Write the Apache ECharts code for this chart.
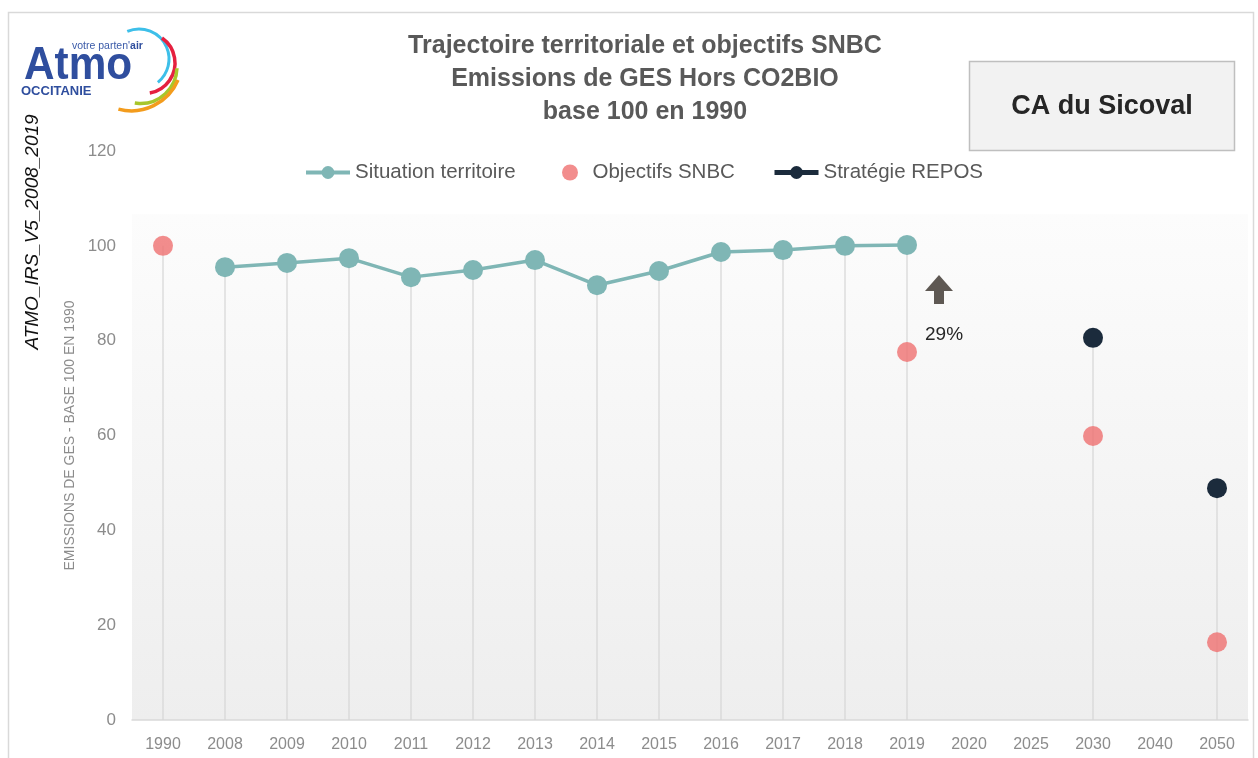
<!DOCTYPE html>
<html>
<head>
<meta charset="utf-8">
<script src="https://cdn.jsdelivr.net/npm/echarts@6/dist/echarts.min.js"></script>
<style>html,body{margin:0;padding:0;background:#fff}#c{width:1258px;height:758px}</style>
</head>
<body>
<div id="c"></div>
<script>
const categories = ['1990','2008','2009','2010','2011','2012','2013','2014','2015','2016','2017','2018','2019','2020','2025','2030','2040','2050'];
const situationTerritoire = [null,95.5,96.4,97.4,93.4,94.9,97.0,91.7,94.7,98.7,99.1,100.0,100.2,null,null,null,null,null];
const objectifsSNBC = [100,null,null,null,null,null,null,null,null,null,null,null,77.6,null,null,59.9,null,16.4];
const strategieREPOS = [null,null,null,null,null,null,null,null,null,null,null,null,null,null,null,80.6,null,48.9];
const yTicks = {min:0, max:120, interval:20};

const dropLines = categories.map((c,i)=>{
  const v=[situationTerritoire[i],objectifsSNBC[i],strategieREPOS[i]].filter(x=>x!=null);
  return v.length?Math.max(...v):null;
});

const FONT = "'Liberation Sans Narrow','Arial Narrow','Liberation Sans',sans-serif";
const LOGOFONT = "'Liberation Sans',Arial,sans-serif";
const TEAL='#7fb6b5', RED='#ef7070', NAVY='#1b2b3c';
const deg=Math.PI/180;
const legendText = {fontFamily:FONT, fontSize:20.5, color:'#595959'};

const chart = echarts.init(document.getElementById('c'));
chart.setOption({
  backgroundColor:'#fff',
  animation:false,
  title:{
    text:'Trajectoire territoriale et objectifs SNBC\nEmissions de GES Hors CO2BIO\nbase 100 en 1990',
    left:640, top:25, textAlign:'center',
    textStyle:{fontFamily:FONT, fontSize:25, fontWeight:'bold', color:'#595959', lineHeight:33}
  },
  legend:[
    {left:299, top:157, itemWidth:44, itemHeight:16, textStyle:legendText,
      data:[{name:'Situation territoire', lineStyle:{width:4}}]},
    {left:557, top:157, itemWidth:35, itemHeight:16, textStyle:legendText,
      data:[{name:'Objectifs SNBC', icon:'circle'}]},
    {left:767, top:157, itemWidth:44, itemHeight:16, textStyle:legendText,
      data:[{name:'Stratégie REPOS', lineStyle:{width:5}}]}
  ],
  grid:{left:132, right:10, top:151, bottom:38,
    show:true, borderWidth:0,
    backgroundColor:{type:'linear',x:0,y:0,x2:0,y2:1,colorStops:[{offset:0,color:'#ffffff'},{offset:0.11,color:'#ffffff'},{offset:0.112,color:'#fcfcfc'},{offset:1,color:'#eeeeee'}]}
  },
  xAxis:{
    type:'category', data:categories, boundaryGap:true,
    axisLine:{lineStyle:{color:'#d9d9d9', width:1.5}},
    axisTick:{show:false},
    axisLabel:{fontFamily:FONT, fontSize:16, color:'#8c8c8c', margin:17, interval:0}
  },
  yAxis:{
    type:'value', min:yTicks.min, max:yTicks.max, interval:yTicks.interval,
    name:'EMISSIONS DE GES - BASE 100 EN 1990', nameLocation:'middle', nameGap:51, nameRotate:90,
    nameTextStyle:{fontFamily:FONT, fontSize:14, color:'#8c8c8c'},
    axisLine:{show:false}, axisTick:{show:false}, splitLine:{show:false},
    axisLabel:{fontFamily:FONT, fontSize:17, color:'#8c8c8c', margin:16}
  },
  series:[
    {name:'drop', type:'bar', data:dropLines, barWidth:1.2, silent:true, z:1,
      itemStyle:{color:'#d6d6d6'}, legendHoverLink:false},
    {name:'Situation territoire', type:'line', data:situationTerritoire, connectNulls:false,
      symbol:'circle', symbolSize:20, z:3,
      lineStyle:{color:TEAL, width:3.5}, itemStyle:{color:TEAL}},
    {name:'Objectifs SNBC', type:'scatter', data:objectifsSNBC, symbol:'circle', symbolSize:20, z:3,
      itemStyle:{color:RED}},
    {name:'Stratégie REPOS', type:'line', data:strategieREPOS, connectNulls:false,
      symbol:'circle', symbolSize:20, z:3,
      lineStyle:{color:NAVY, width:4}, itemStyle:{color:NAVY}}
  ],
  graphic:[
    {type:'rect', shape:{x:8.5,y:12.5,width:1245,height:800}, style:{fill:null, stroke:'#d9d9d9', lineWidth:1.5}, z:-10},
    {type:'rect', shape:{x:969.5,y:61.5,width:265,height:89}, style:{fill:'#f2f2f2', stroke:'#bfbfbf', lineWidth:1.5}},
    {type:'text', x:1102, y:107, style:{text:'CA du Sicoval', fontFamily:FONT, fontSize:27, fontWeight:'bold', fill:'#262626', textAlign:'center', textVerticalAlign:'middle'}},
    {type:'text', x:33, y:232, rotation:Math.PI/2, style:{text:'ATMO_IRS_V5_2008_2019', fontFamily:FONT, fontSize:19, fontStyle:'italic', fill:'#111', textAlign:'center', textVerticalAlign:'middle'}},
    {type:'polygon', shape:{points:[[939,275],[953,291],[944,291],[944,304],[934,304],[934,291],[925,291]]}, style:{fill:'#5e5853'}},
    {type:'text', x:925, y:335, style:{text:'29%', fontFamily:FONT, fontSize:19, fill:'#262626', textVerticalAlign:'middle'}},
    // logo
    {type:'text', x:24, y:66, scaleX:0.9, style:{text:'Atmo', fontFamily:LOGOFONT, fontSize:47, fontWeight:'bold', fill:'#2f4e9e', textVerticalAlign:'middle'}},
    {type:'text', x:72, y:46, style:{text:"{a|votre parten'}{b|air}", fontFamily:LOGOFONT, fontSize:10.5, fill:'#2f4e9e', textVerticalAlign:'middle',
      rich:{a:{fontFamily:LOGOFONT, fontSize:10.5, fill:'#3a5aa8'}, b:{fontFamily:LOGOFONT, fontSize:10.5, fontWeight:'bold', fill:'#2f4e9e'}}}},
    {type:'text', x:21, y:91, style:{text:'OCCITANIE', fontFamily:LOGOFONT, fontSize:13, fontWeight:'bold', fill:'#2f4e9e', textVerticalAlign:'middle'}},
    {type:'arc', shape:{cx:139,cy:59,r:30,startAngle:-113*deg,endAngle:51*deg}, style:{stroke:'#3dbfe9', lineWidth:3, fill:null}},
    {type:'arc', shape:{cx:144.5,cy:63,r:30.5,startAngle:-55*deg,endAngle:80*deg}, style:{stroke:'#e5203f', lineWidth:3.5, fill:null}},
    {type:'arc', shape:{cx:140.5,cy:67,r:36.5,startAngle:2*deg,endAngle:99*deg}, style:{stroke:'#a8c62b', lineWidth:3.5, fill:null}},
    {type:'arc', shape:{cx:131.5,cy:60.3,r:50.5,startAngle:23*deg,endAngle:105*deg}, style:{stroke:'#f39c1d', lineWidth:3.5, fill:null}}
  ]
});
</script>
</body>
</html>
